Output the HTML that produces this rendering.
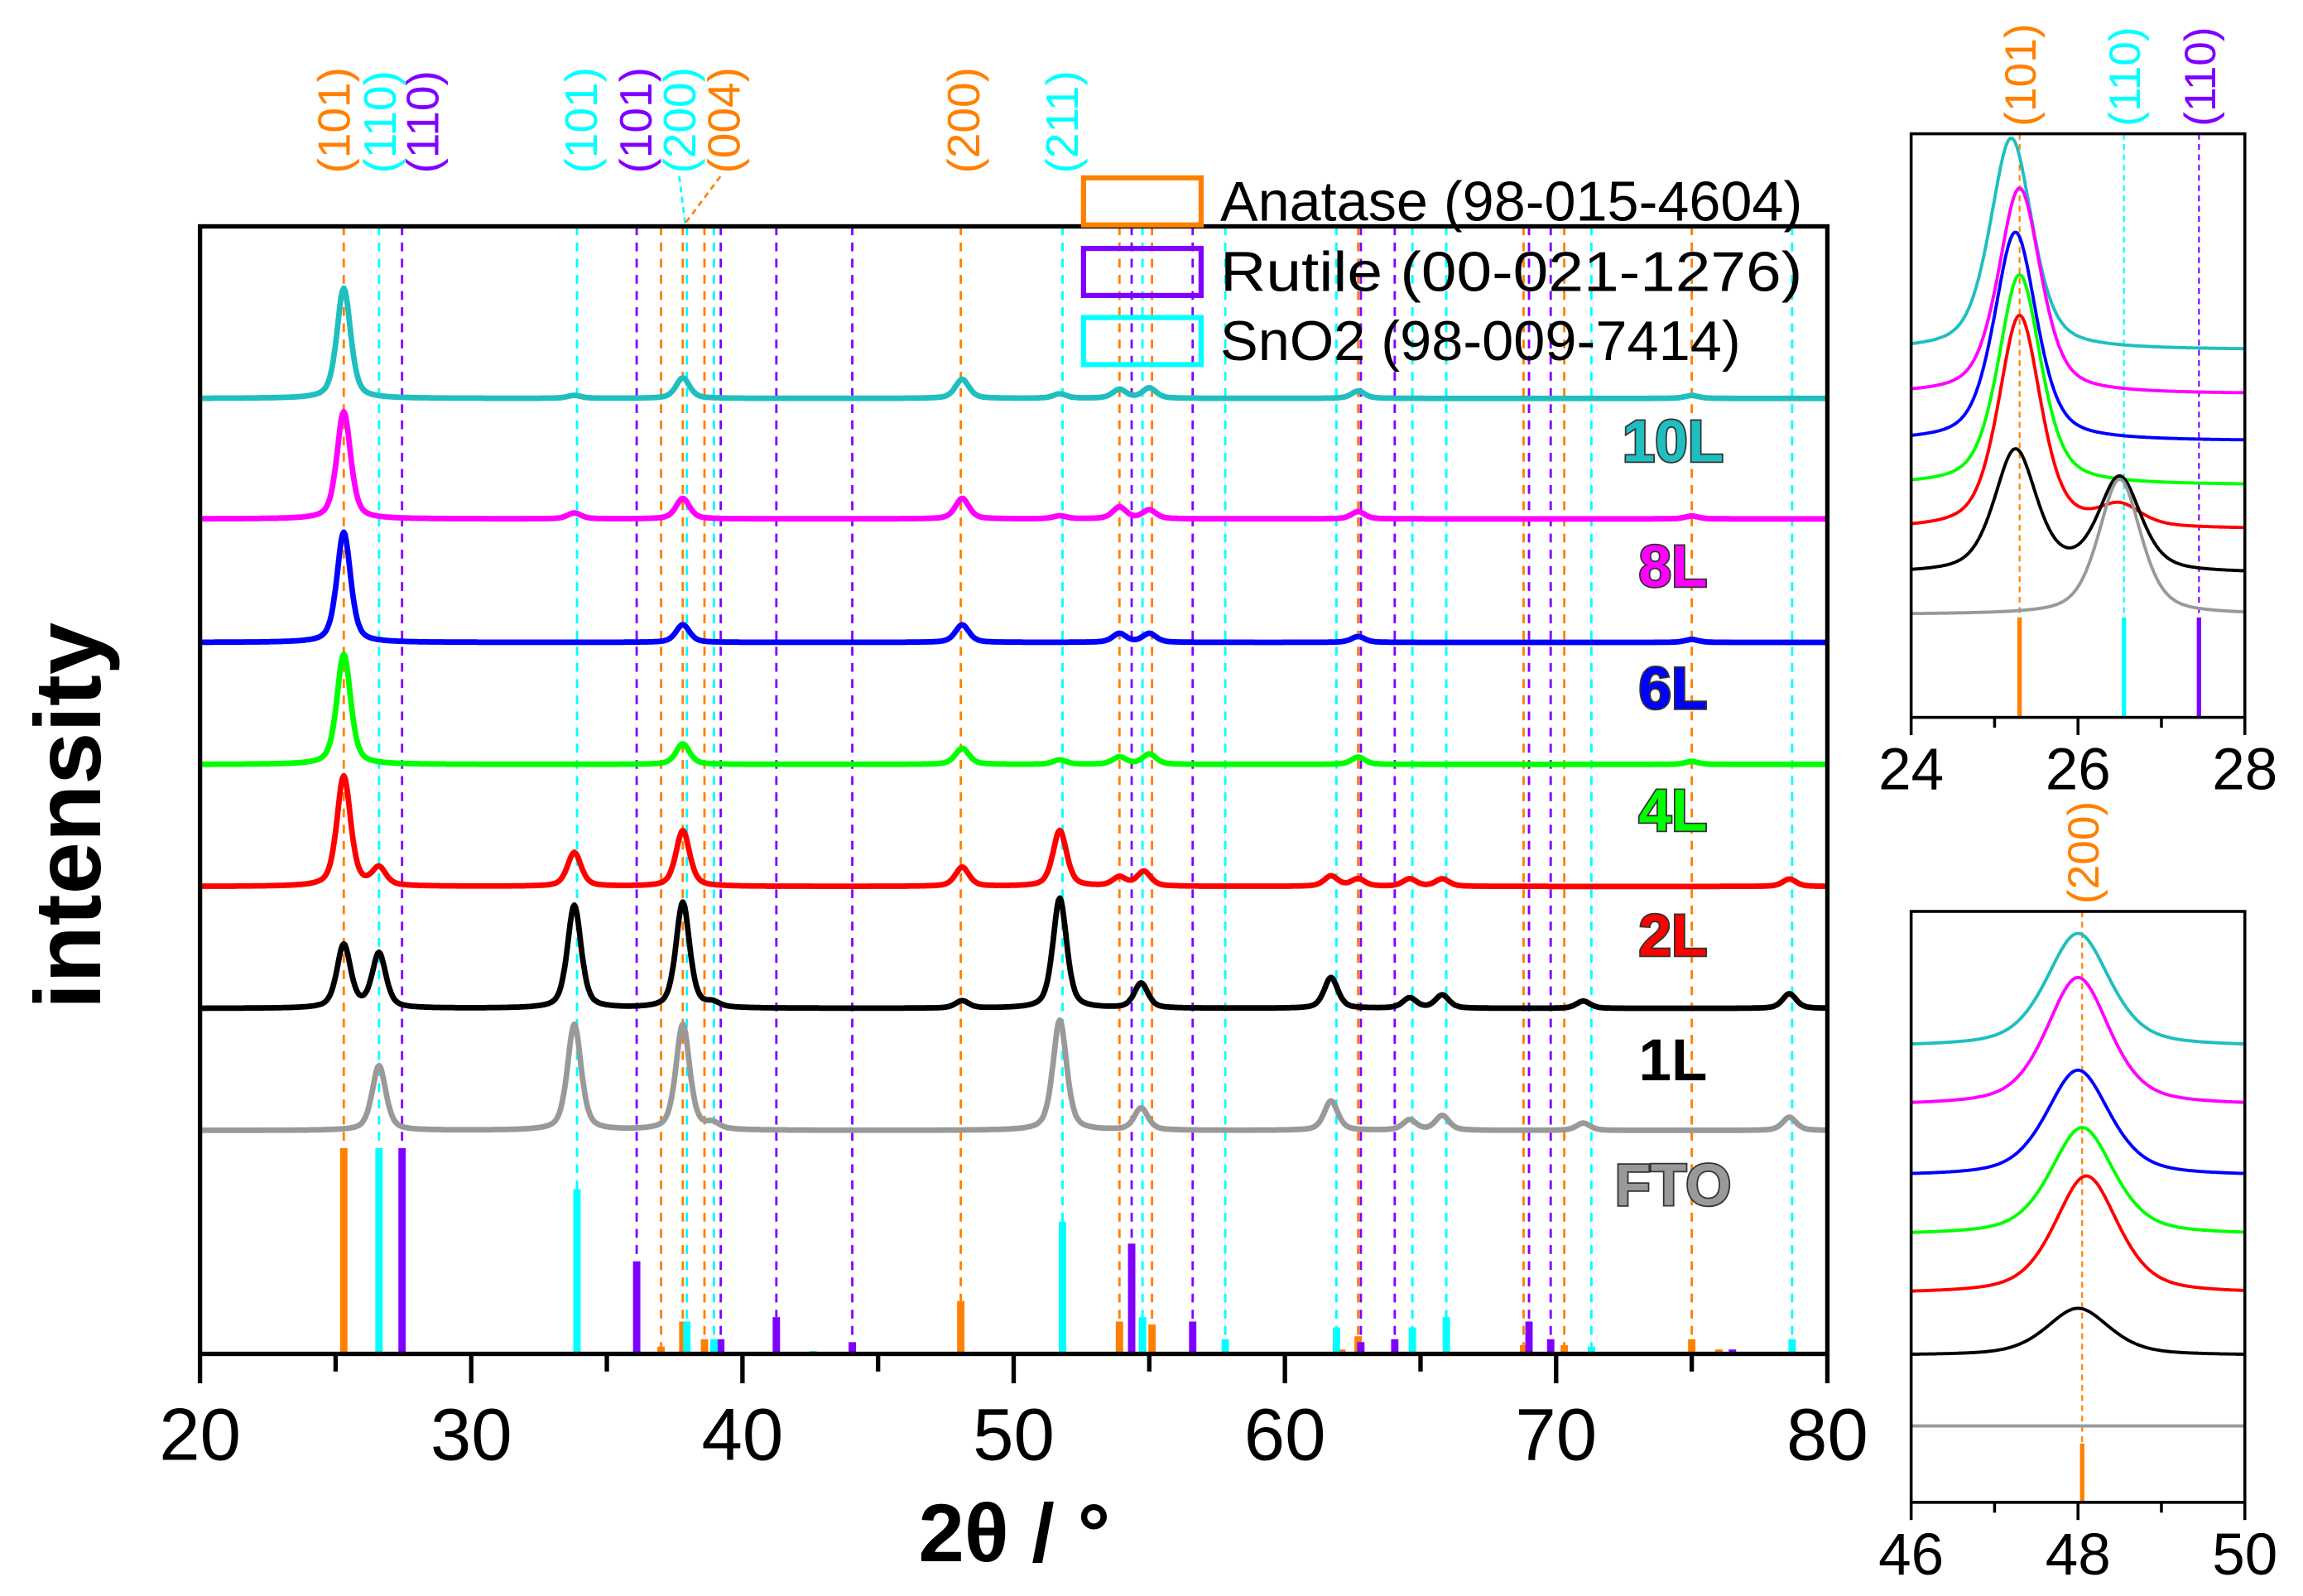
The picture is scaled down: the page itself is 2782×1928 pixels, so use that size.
<!DOCTYPE html>
<html><head><meta charset="utf-8"><style>html,body{margin:0;padding:0;background:#fff}svg{display:block}</style></head>
<body>
<svg id="chart" xmlns="http://www.w3.org/2000/svg" width="2782" height="1928" viewBox="0 0 1566.5 1085.7" font-family="Liberation Sans, sans-serif"></svg>
<script>
// ---- main plot data (intensity, arbitrary units) ----
const sampleNames = ["10L","8L","6L","4L","2L","1L","FTO"];
const sampleColors = ["#1fbfbf","#ff00ff","#0000ff","#00ff00","#ff0000","#000000","#999999"];
const sampleBaselines = [650,568,484,401,318,235,152];
const peaks10L = [[25.3,75],[33.8,2],[37.8,14],[48.1,13],[51.7,3],[53.9,6],[55.0,7],[62.7,5],[75.0,2]];
const peaks8L = [[25.3,73],[33.8,4],[37.8,14],[48.1,14],[51.7,2],[53.9,8],[55.0,6],[62.7,5],[75.0,2]];
const peaks6L = [[25.3,75],[37.8,12],[48.1,12],[53.9,6],[55.0,6],[62.7,4],[75.0,2]];
const peaks4L = [[25.3,75],[37.8,14],[48.1,11],[51.7,3],[53.9,5],[55.0,7],[62.7,5],[75.0,2]];
const peaks2L = [[25.3,75],[26.6,12],[33.8,23],[37.8,38],[48.1,13],[51.7,38],[53.9,6],[54.8,10],[61.7,7],[62.7,5],[64.6,5],[65.8,5],[78.6,5]];
const peaks1L = [[25.3,43],[26.6,37],[33.8,70],[37.8,72],[38.9,3],[48.1,5],[51.7,75],[54.7,17],[61.7,21],[64.6,7],[65.8,9],[71.0,5],[78.6,10]];
const peaksFTO = [[26.6,44],[33.8,72],[37.8,72],[38.9,4],[51.7,75],[54.7,15],[61.7,20],[64.6,7],[65.8,10],[71.0,5],[78.6,9]];
const samplePeaks = [peaks10L,peaks8L,peaks6L,peaks4L,peaks2L,peaks1L,peaksFTO];
// reference sticks [2theta, intensity]
const anataseSticks = [[25.3,140],[37.0,5],[37.8,22],[38.6,10],[48.05,36],[53.9,22],[55.1,20],[62.1,3],[62.7,12],[68.8,6],[70.3,6],[75.0,10],[76.0,3]];
const rutileSticks = [[27.45,140],[36.1,63],[39.2,10],[41.25,25],[44.05,8],[54.35,75],[56.6,22],[62.8,8],[64.05,10],[69.0,22],[69.8,10],[76.5,3]];
const sno2Sticks = [[26.6,140],[33.9,112],[37.95,22],[38.95,10],[42.6,2],[51.8,90],[54.75,25],[57.8,10],[61.9,18],[64.7,18],[65.95,25],[71.3,5],[78.7,10]];
const xTicks = [20,30,40,50,60,70,80];
// ---- inset 1 (24-28) ----
const inset1Baselines = [250,220,188,158,128,98,70];
const inset1Peaks = [[[25.2,144]],[[25.3,140]],[[25.25,142]],[[25.3,143]],[[25.3,145],[26.5,14]],[[25.25,83],[26.5,64]],[[26.5,92]]];
const inset1Ticks = [24,26,28];
// ---- inset 2 (46-50) ----
const inset2Baselines = [310,270,222,182,142,100,52];
const inset2Peaks = [[[48.0,77]],[[48.0,87]],[[48.0,72]],[[48.05,73]],[[48.1,80]],[[48.0,32]],[[48.0,0]]];
const inset2Ticks = [46,48,50];

const NS="http://www.w3.org/2000/svg";
const svg=document.getElementById('chart');
function mk(tag,attrs,parent){const e=document.createElementNS(NS,tag);for(const k in attrs)e.setAttribute(k,attrs[k]);(parent||svg).appendChild(e);return e;}
const refColors={a:"#ff8000",r:"#8000ff",s:"#00ffff"};

function profile(x,pk,w){let s=0;for(const p of pk){const d=(x-p[0])/w;s+=p[1]*(0.5/(1+d*d)+0.5*Math.exp(-0.693*d*d));}return s;}

// main axes
const M={l:136,r:1243,t:154,b:921,x0:20,x1:80};
const mx=v=>M.l+(v-M.x0)/(M.x1-M.x0)*(M.r-M.l);
const my=v=>M.b-v;
const gMain=mk('g',{});


// dashed guide lines
[[anataseSticks,refColors.a],[rutileSticks,refColors.r],[sno2Sticks,refColors.s]].forEach(([arr,c])=>{
  arr.forEach(s=>{ if(s[1]<4) return;
    const l=mk('line',{x1:mx(s[0]),x2:mx(s[0]),y1:M.t,y2:my(s[1]),stroke:c,'stroke-width':1.6,'stroke-dasharray':'6,5'},gMain);
    
    
  });
});
// curves
samplePeaks.forEach((pk,i)=>{
  let d='';
  for(let x=M.x0;x<=M.x1+1e-9;x+=0.05){d+=(d?'L':'M')+mx(x).toFixed(1)+','+my(sampleBaselines[i]+profile(x,pk,0.3)).toFixed(1);}
  const p=mk('path',{d:d,fill:'none',stroke:sampleColors[i],'stroke-width':3.8,'stroke-linejoin':'round'},gMain);
  
  
});
// sticks
[[anataseSticks,refColors.a,'anatase'],[rutileSticks,refColors.r,'rutile'],[sno2Sticks,refColors.s,'sno2']].forEach(([arr,c,n])=>{
  arr.forEach(s=>{
    const r=mk('rect',{x:mx(s[0])-2.5,y:my(s[1]),width:5,height:s[1],fill:c},gMain);
    
    
  });
});
// frame
const fr=mk('rect',{x:M.l,y:M.t,width:M.r-M.l,height:M.b-M.t,fill:'none',stroke:'#000','stroke-width':3},gMain);


for(let v=20;v<=80;v+=5){
  const maj=v%10===0;
  const t=mk('line',{x1:mx(v),x2:mx(v),y1:M.b,y2:M.b+(maj?20:12),stroke:'#000','stroke-width':3},gMain);
  
  
}
xTicks.forEach(v=>{
  const t=mk('text',{x:mx(v),y:993,'font-size':50,'text-anchor':'middle'},gMain);t.textContent=v;
  
  
});
const xt=mk('text',{x:690,y:1062,'font-size':56,'font-weight':'bold','text-anchor':'middle'});xt.textContent='2θ / °';


const yt=mk('text',{x:0,y:0,'font-size':64,'font-weight':'bold','text-anchor':'middle',transform:'translate(68,555) rotate(-90)'});yt.textContent='intensity';


// sample labels
const labelY=[300,385,468,551,636,721,806];
sampleNames.forEach((n,i)=>{
  const fill=i===5?'#000':sampleColors[i];
  const t=mk('text',{x:1138,y:labelY[i]+14,'font-size':40,'font-weight':'bold','text-anchor':'middle',fill:fill,stroke:i===5?'none':'#333','stroke-width':2,'paint-order':'stroke'});
  t.textContent=n;
  
  
});
// legend
const leg=[["Anatase (98-015-4604)",refColors.a,137],["Rutile (00-021-1276)",refColors.r,185],["SnO2 (98-009-7414)",refColors.s,232]];
leg.forEach(([txt,c,y])=>{
  const g=mk('g',{});
  
  
  mk('rect',{x:737,y:y-16,width:80,height:32,fill:'none',stroke:c,'stroke-width':3.5},g);
  const t=mk('text',{x:830,y:y+13,'font-size':38,textLength:txt.length>19?396:354,lengthAdjust:'spacingAndGlyphs'},g);t.textContent=txt;
});
// top hkl labels
const hkl=[["(101)",refColors.a,227],["(110)",refColors.s,258],["(110)",refColors.r,287],["(101)",refColors.s,395],["(101)",refColors.r,432],["(200)",refColors.s,462],["(004)",refColors.a,492],["(200)",refColors.a,655],["(211)",refColors.s,722]];
hkl.forEach(([t0,c,x])=>{
  const t=mk('text',{x:0,y:0,'font-size':31,fill:c,transform:`translate(${x+11},118) rotate(-90)`});t.textContent=t0;
  
  
});
mk('line',{x1:462,y1:120,x2:466,y2:152,stroke:refColors.s,'stroke-width':1.5,'stroke-dasharray':'4,3'});
mk('line',{x1:490,y1:120,x2:466,y2:152,stroke:refColors.a,'stroke-width':1.5,'stroke-dasharray':'4,3'});

// insets
function inset(I,bases,peaks,ticks,w,sticks,name,labels){
  const g=mk('g',{});
  
  
  const ix=v=>I.l+(v-I.x0)/(I.x1-I.x0)*(I.r-I.l);
  const iy=v=>I.b-v;
  sticks.forEach(s=>{mk('line',{x1:ix(s[0]),x2:ix(s[0]),y1:I.t,y2:iy(s[1]),stroke:s[2],'stroke-width':1.2,'stroke-dasharray':'4,3'},g);});
  peaks.forEach((pk,i)=>{
    let d='';
    for(let x=I.x0;x<=I.x1+1e-9;x+=0.01){d+=(d?'L':'M')+ix(x).toFixed(1)+','+iy(bases[i]+profile(x,pk,w)).toFixed(1);}
    const p=mk('path',{d:d,fill:'none',stroke:sampleColors[i],'stroke-width':2.2},g);
    
    
  });
  sticks.forEach(s=>{
    const r=mk('rect',{x:ix(s[0])-1.5,y:iy(s[1]),width:3,height:s[1],fill:s[2]},g);
    
    
  });
  mk('rect',{x:I.l,y:I.t,width:I.r-I.l,height:I.b-I.t,fill:'none',stroke:'#000','stroke-width':2},g);
  for(let v=I.x0;v<=I.x1;v+=1){const maj=(v-I.x0)%2===0;mk('line',{x1:ix(v),x2:ix(v),y1:I.b,y2:I.b+(maj?12:7),stroke:'#000','stroke-width':2},g);}
  ticks.forEach(v=>{const t=mk('text',{x:ix(v),y:I.b+49,'font-size':40,'text-anchor':'middle'},g);t.textContent=v;
    
    });
  labels.forEach(([t0,c,x])=>{const t=mk('text',{x:0,y:0,'font-size':30,fill:c,transform:`translate(${ix(x)+11},${I.t-5}) rotate(-90)`},g);t.textContent=t0;
    
    });
}
inset({l:1300,r:1527,t:91,b:488,x0:24,x1:28},inset1Baselines,inset1Peaks,inset1Ticks,0.3,
  [[25.3,68,refColors.a],[26.55,68,refColors.s],[27.45,68,refColors.r]],'inset-24-28',
  [["(101)",refColors.a,25.3],["(110)",refColors.s,26.55],["(110)",refColors.r,27.45]]);
inset({l:1300,r:1527,t:620,b:1022,x0:46,x1:50},inset2Baselines,inset2Peaks,inset2Ticks,0.45,
  [[48.05,40,refColors.a]],'inset-46-50',[["(200)",refColors.a,48.05]]);
</script>
</body></html>
